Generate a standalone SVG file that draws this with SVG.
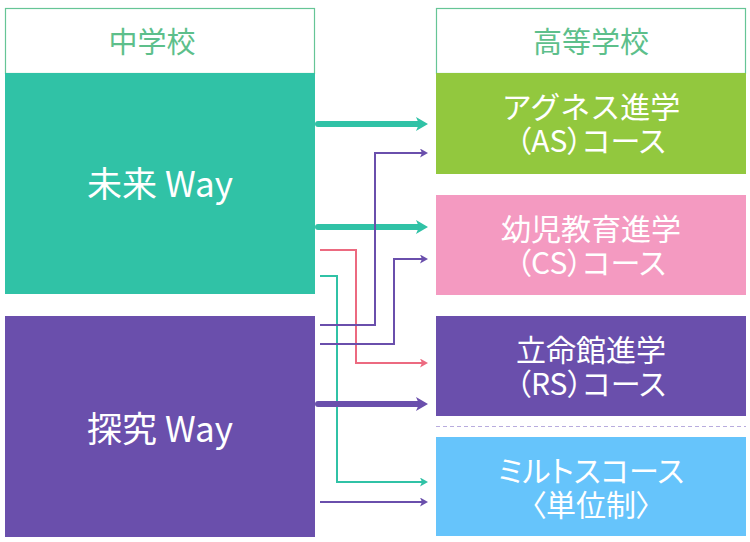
<svg xmlns="http://www.w3.org/2000/svg" width="750" height="542" viewBox="0 0 750 542">
<style>
.hdr{fill:#fff;stroke:#66c596;stroke-width:1.2}
.htxt{font-family:"Noto Sans CJK JP","Noto Sans",sans-serif;font-size:29px;fill:#5dbf8b;text-anchor:middle}
.big{font-family:"Noto Sans CJK JP","Noto Sans",sans-serif;font-size:35px;fill:#fff;text-anchor:middle}
.crs{font-family:"Noto Sans CJK JP","Noto Sans",sans-serif;font-size:30px;fill:#fff;text-anchor:middle}
.p{font-feature-settings:"palt"}
.thick{fill:none;stroke-width:6;stroke-linecap:round}
.thin{fill:none;stroke-width:2}
</style>
<defs>
<marker id="bigTeal" markerUnits="userSpaceOnUse" viewBox="0 0 12 14" refX="3" refY="7" markerWidth="12" markerHeight="14" orient="auto"><path d="M0,0 L12,7 L0,14 L3,7 Z" fill="#30c2a6"/></marker>
<marker id="bigPurple" markerUnits="userSpaceOnUse" viewBox="0 0 12 14" refX="3" refY="7" markerWidth="12" markerHeight="14" orient="auto"><path d="M0,0 L12,7 L0,14 L3,7 Z" fill="#6a4fac"/></marker>
<marker id="smPurple" markerUnits="userSpaceOnUse" viewBox="0 0 8 9" refX="2" refY="4.5" markerWidth="8" markerHeight="9" orient="auto"><path d="M0,0 L8,4.5 L0,9 L2,4.5 Z" fill="#6a4fac"/></marker>
<marker id="smPink" markerUnits="userSpaceOnUse" viewBox="0 0 8 9" refX="2" refY="4.5" markerWidth="8" markerHeight="9" orient="auto"><path d="M0,0 L8,4.5 L0,9 L2,4.5 Z" fill="#ec6a80"/></marker>
<marker id="smTeal" markerUnits="userSpaceOnUse" viewBox="0 0 8 9" refX="2" refY="4.5" markerWidth="8" markerHeight="9" orient="auto"><path d="M0,0 L8,4.5 L0,9 L2,4.5 Z" fill="#30c2a6"/></marker>
</defs>
<rect width="750" height="542" fill="#fff"/>
<g id="jhs-header">
<rect class="hdr" x="5.5" y="8.5" width="309" height="65"/>
<text class="htxt" x="152" y="53">中学校</text>
</g>
<g id="hs-header">
<rect class="hdr" x="436.5" y="8.5" width="309" height="65"/>
<text class="htxt" x="591" y="53">高等学校</text>
</g>
<g id="mirai-way">
<rect x="5" y="73" width="310" height="221" fill="#30c2a6"/>
<text class="big" x="160" y="197">未来 Way</text>
</g>
<g id="tankyu-way">
<rect x="5" y="316" width="310" height="221" fill="#6a4fac"/>
<text class="big" x="160" y="442">探究 Way</text>
</g>
<g id="as-course">
<rect x="436" y="73" width="310" height="101" fill="#92c83e"/>
<text class="crs" x="591" y="118">アグネス進学</text>
<text class="crs p" x="591" y="152">（AS）コース</text>
</g>
<g id="cs-course">
<rect x="436" y="195" width="310" height="100" fill="#f49ac1"/>
<text class="crs" x="591" y="240">幼児教育進学</text>
<text class="crs p" x="591" y="274">（CS）コース</text>
</g>
<g id="rs-course">
<rect x="436" y="316" width="310" height="100" fill="#6a4fac"/>
<text class="crs" x="591" y="361">立命館進学</text>
<text class="crs p" x="591" y="395">（RS）コース</text>
</g>
<line x1="436" y1="426.5" x2="746" y2="426.5" stroke="#b8acde" stroke-width="1" stroke-dasharray="4 3"/>
<g id="miltos-course">
<rect x="436" y="437" width="310" height="99" fill="#66c4fb"/>
<text class="crs p" x="591" y="482">ミルトスコース</text>
<text class="crs p" x="591" y="516">〈単位制〉</text>
</g>
<g id="connectors">
<path class="thick" stroke="#30c2a6" d="M318,124 H419" marker-end="url(#bigTeal)"/>
<path class="thick" stroke="#30c2a6" d="M318,227 H419" marker-end="url(#bigTeal)"/>
<path class="thin" stroke="#30c2a6" d="M320,276 H337 V482 H422" marker-end="url(#smTeal)"/>
<path class="thin" stroke="#ec6a80" d="M320,250 H356 V363 H422" marker-end="url(#smPink)"/>
<path class="thin" stroke="#6a4fac" d="M320,325 H375 V153 H422" marker-end="url(#smPurple)"/>
<path class="thin" stroke="#6a4fac" d="M320,344 H394 V259 H422" marker-end="url(#smPurple)"/>
<path class="thick" stroke="#6a4fac" d="M318,404 H419" marker-end="url(#bigPurple)"/>
<path class="thin" stroke="#6a4fac" d="M320,502 H422" marker-end="url(#smPurple)"/>
</g>
</svg>
